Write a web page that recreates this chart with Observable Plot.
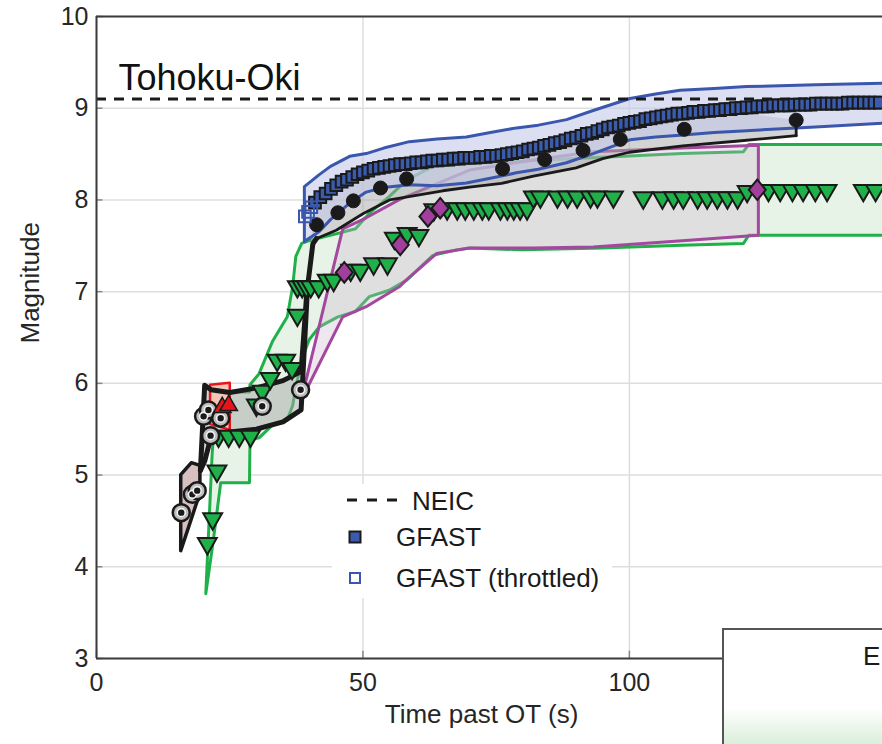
<!DOCTYPE html>
<html><head><meta charset="utf-8">
<script src="https://cdn.jsdelivr.net/npm/d3@7"></script>
<script src="https://cdn.jsdelivr.net/npm/@observablehq/plot@0.6"></script>
<style>
body{margin:0;background:#fff;font-family:"Liberation Sans",Arial,sans-serif;}
#wrap{position:relative;width:882px;height:744px;overflow:hidden;}
#wrap svg{display:block;}
.leg{position:absolute;left:332px;top:484px;width:280px;height:114px;background:#fff;}
.lt{position:absolute;font-size:26px;color:#1a1a1a;line-height:26px;white-space:nowrap;}
.box2{position:absolute;left:722px;top:628px;width:220px;height:160px;border:2px solid #555;
 background:linear-gradient(to bottom,#fff 0px,#fff 78px,#dcefdc 112px);}
</style></head><body><div id="wrap"></div>
<script>
// ---- data ----
const xTicks = [0, 50, 100];
const yTicks = [3, 4, 5, 6, 7, 8, 9, 10];
const neicM = 9.1;
const titleText = "Tohoku-Oki";

const gfastT = [41,42,43,44,45,46,47,48,49,50,51,52,53,54,55,56,57,58,59,60,61,62,63,64,65,66,67,68,69,70,
 71,72,73,74,75,76,77,78,79,80,81,82,83,84,85,86,87,88,89,90,91,92,93,94,95,96,97,98,99,100,
 101,102,103,104,105,106,107,108,109,110,111,112,113,114,115,116,117,118,119,120,121,122,123,124,125,
 126,127,128,129,130,131,132,133,134,135,136,137,138,139,140,141,142,143,144,145,146,147];
const gfastM = [7.97,8.03,8.07,8.12,8.16,8.20,8.22,8.25,8.28,8.30,8.32,8.34,8.35,8.36,8.37,8.38,8.39,8.39,8.40,8.41,
 8.41,8.42,8.43,8.43,8.44,8.44,8.45,8.45,8.46,8.46,8.46,8.47,8.47,8.48,8.48,8.49,8.50,8.51,8.52,8.53,
 8.55,8.56,8.57,8.59,8.60,8.62,8.63,8.65,8.67,8.68,8.70,8.72,8.73,8.75,8.77,8.79,8.80,8.81,8.83,8.84,
 8.85,8.86,8.88,8.89,8.90,8.91,8.92,8.93,8.94,8.94,8.95,8.96,8.96,8.97,8.97,8.98,8.98,8.99,8.99,9.00,
 9.00,9.01,9.01,9.02,9.02,9.02,9.03,9.03,9.03,9.03,9.04,9.04,9.04,9.04,9.05,9.05,9.05,9.05,9.05,9.05,
 9.06,9.06,9.06,9.06,9.06,9.06,9.06];
const throttT = [39.1, 39.7, 40.3];
const throttM = [7.82, 7.87, 7.92];

const gfastBandT  = [39.1,41.9,44.0,47.6,50.7,54.0,58.8,64.0,69.5,74.0,78.9,83.0,88.3,93.3,100.2,105.0,109.6,116.0,122.1,135.0,150.0];
const gfastBandLo = [7.54,7.65,7.78,7.96,8.08,8.13,8.16,8.15,8.18,8.23,8.29,8.33,8.40,8.50,8.65,8.68,8.70,8.73,8.75,8.79,8.84];
const gfastBandHi = [8.14,8.27,8.36,8.47,8.50,8.56,8.63,8.66,8.68,8.73,8.78,8.81,8.87,8.97,9.10,9.15,9.19,9.21,9.23,9.25,9.27];

const dotT = [41.3, 45.3, 48.2, 53.3, 58.2, 76.2, 84.1, 91.3, 98.3, 110.3, 131.3];
const dotM = [7.73, 7.86, 7.99, 8.13, 8.23, 8.34, 8.44, 8.54, 8.66, 8.77, 8.87];

const grayT  = [19.5,20.3,21.5,25.0,30.0,35.0,38.4,39.6,40.6,41.3,45.0,50.0,55.0,60.0,65.0,70.0,76.0,82.0,90.0,95.0,100.0,110.0,120.0,131.3];
const grayLo = [5.05,5.15,5.42,5.47,5.50,5.58,5.71,7.05,7.52,7.58,7.67,7.85,8.00,8.05,8.10,8.14,8.18,8.26,8.35,8.45,8.52,8.59,8.64,8.70];
const grayHi = [5.05,5.98,5.93,5.90,5.95,6.03,6.13,7.10,7.72,7.88,8.10,8.25,8.33,8.36,8.38,8.40,8.43,8.50,8.62,8.70,8.78,8.88,8.95,8.87];

const brownT  = [15.9, 17.9, 19.5];
const brownLo = [4.17, 4.52, 4.80];
const brownHi = [5.00, 5.13, 5.10];
const circT = [15.9, 18.0, 18.9, 20.1, 21.0, 23.3, 21.4, 31.1, 38.3];
const circM = [4.59, 4.79, 4.83, 5.64, 5.71, 5.62, 5.43, 5.75, 5.93];

const redT  = [21.4, 25.1];
const redLo = [5.55, 5.49];
const redHi = [5.98, 6.00];
const redTriT = [23.6, 24.8];
const redTriM = [5.76, 5.78];

const greenT  = [20.6,21.8,22.5,23.4,28.8,28.9,30.6,33.1,35.9,36.9,37.5,38.6,40.0,41.9,45.4,48.7,51.3,55.0,58.3,63.2,67.6,70.1,80.0,95.0,110.0,121.5,122.5,150.0];
const greenLo = [3.70,4.19,4.50,4.91,4.91,5.38,5.40,5.54,5.60,5.75,5.95,6.25,6.47,6.61,6.72,6.78,6.94,7.01,7.12,7.39,7.45,7.47,7.45,7.47,7.50,7.52,7.61,7.61];
const greenHi = [3.70,5.23,5.78,5.90,5.90,5.98,6.10,6.45,6.72,7.05,7.38,7.52,7.55,7.58,7.63,7.68,7.85,8.03,8.21,8.36,8.38,8.39,8.42,8.46,8.50,8.52,8.60,8.60];
const triT = [20.8,21.8,22.6,22.9,24.8,26.8,28.9,30.0,31.1,32.6,33.9,35.5,36.7,37.7,37.7,38.6,39.4,40.2,41.7,
 43.3,44.5,47.7,49.5,52.0,54.6,55.9,58.3,60.5,63.3,65.8,67.7,69.2,70.8,72.4,73.6,75.8,77.1,78.3,79.5,80.8,
 82.0,83.3,86.5,88.4,90.2,92.7,94.0,97.0,102.6,106.2,108.3,110.1,112.8,114.6,116.5,118.4,120.3,122.1,
 126.1,128.3,130.6,132.6,134.9,137.1,143.9,146.2];
const triM = [4.23,4.50,5.02,5.40,5.40,5.40,5.40,5.74,5.89,6.03,6.23,6.23,6.14,6.72,7.03,7.03,7.03,7.03,7.03,
 7.10,7.10,7.21,7.21,7.28,7.28,7.56,7.61,7.59,7.87,7.88,7.88,7.88,7.88,7.88,7.88,7.88,7.88,7.88,7.88,7.88,
 8.01,8.01,8.01,8.01,8.01,8.01,8.01,8.01,8.00,8.00,8.00,8.00,8.00,8.00,8.00,8.00,8.00,8.07,
 8.08,8.08,8.08,8.08,8.08,8.08,8.08,8.08];

const magT  = [38.5,46.3,50.7,57.0,58.2,63.9,70.1,82.0,93.3,110.0,124.3];
const magLo = [5.81,6.72,6.83,7.05,7.12,7.41,7.47,7.47,7.48,7.55,7.61];
const magHi = [5.81,7.68,7.80,8.00,8.03,8.17,8.32,8.43,8.52,8.56,8.59];
const diaT = [46.5, 57.0, 62.2, 64.5, 124.0];
const diaM = [7.21, 7.51, 7.82, 7.91, 8.11];

// ---- helpers ----
const band = (T, L, H) => T.map((t, i) => ({t, lo: L[i], hi: H[i]}));
const pts = (T, M) => T.map((t, i) => ({t, m: M[i]}));
const downTri = {draw(ctx, size) {
  const y = Math.sqrt(size / (3 * Math.sqrt(3)));
  ctx.moveTo(0, 1.6 * y); ctx.lineTo(Math.sqrt(3) * y, -1.4 * y); ctx.lineTo(-Math.sqrt(3) * y, -1.4 * y); ctx.closePath();
}};
const upTri = {draw(ctx, size) {
  const y = Math.sqrt(size / (3 * Math.sqrt(3)));
  ctx.moveTo(0, -1.6 * y); ctx.lineTo(Math.sqrt(3) * y, 1.4 * y); ctx.lineTo(-Math.sqrt(3) * y, 1.4 * y); ctx.closePath();
}};
const diamond = {draw(ctx, size) {
  const w = Math.sqrt(size) * 0.6, h = Math.sqrt(size) * 0.72;
  ctx.moveTo(0, -h); ctx.lineTo(w, 0); ctx.lineTo(0, h); ctx.lineTo(-w, 0); ctx.closePath();
}};

const grayRows = band(grayT, grayLo, grayHi);
const lastGray = grayRows[grayRows.length - 1];
const K = "#1a1a1a";

const chart = Plot.plot({
  width: 882, height: 744,
  marginLeft: 96, marginRight: 0, marginTop: 16, marginBottom: 86,
  x: {domain: [0, 147.5]},
  y: {domain: [3, 10]},
  style: {fontFamily: '"Liberation Sans", Arial, sans-serif', color: "#262626", background: "#fff", overflow: "visible"},
  marks: [
    Plot.gridY(yTicks, {stroke: "#dedede", strokeOpacity: 1, strokeWidth: 1.5}),
    Plot.gridX(xTicks, {stroke: "#dedede", strokeOpacity: 1, strokeWidth: 1.5}),
    Plot.ruleY(yTicks, {x1: 0, x2: 1.2, stroke: "#888", strokeWidth: 1.5}),
    Plot.ruleX(xTicks, {y1: 3, y2: 3.08, stroke: "#888", strokeWidth: 1.5}),
    // bands
    Plot.areaY(band(greenT, greenLo, greenHi), {x: "t", y1: "lo", y2: "hi", fill: "#e6f3e6", stroke: "#1fb04a", strokeWidth: 3, clip: true}),
    Plot.areaY(band(magT, magLo, magHi), {x: "t", y1: "lo", y2: "hi", fill: "#cdb4cd", fillOpacity: 0.32, stroke: "#a2489e", strokeWidth: 3, clip: true}),
    Plot.areaY(grayRows, {x: "t", y1: "lo", y2: "hi", fill: "#a8a8a8", fillOpacity: 0.5, clip: true}),
    Plot.areaY(band(brownT, brownLo, brownHi), {x: "t", y1: "lo", y2: "hi", fill: "#d8c0c0", stroke: K, strokeWidth: 3.5, clip: true}),
    Plot.areaY(band(redT, redLo, redHi), {x: "t", y1: "lo", y2: "hi", fill: "#f5c6b6", stroke: "#e8141c", strokeWidth: 2.5, clip: true}),
    Plot.areaY(band(gfastBandT, gfastBandLo, gfastBandHi), {x: "t", y1: "lo", y2: "hi", fill: "#c3c9e8", fillOpacity: 0.6, stroke: "#3a57ad", strokeWidth: 3, clip: true}),
    // outline of the gray band
    Plot.line(grayRows.filter(d => d.t <= 41.3), {x: "t", y: "lo", stroke: K, strokeWidth: 5, clip: true}),
    Plot.line(grayRows.filter(d => d.t <= 39.6), {x: "t", y: "hi", stroke: K, strokeWidth: 5, clip: true}),
    Plot.line(grayRows.filter(d => d.t >= 41.3), {x: "t", y: "lo", stroke: K, strokeWidth: 2.8, clip: true}),
    Plot.line([{t: lastGray.t, m: lastGray.lo}, {t: dotT[dotT.length - 1], m: dotM[dotM.length - 1]}], {x: "t", y: "m", stroke: K, strokeWidth: 2.8}),
    // NEIC
    Plot.ruleY([neicM], {stroke: K, strokeWidth: 3, strokeDasharray: "10,8"}),
    // markers
    Plot.dot(pts(triT, triM), {x: "t", y: "m", symbol: downTri, r: 7, fill: "#1fb04a", stroke: K, strokeWidth: 2, clip: true}),
    Plot.dot(pts(diaT, diaM), {x: "t", y: "m", symbol: diamond, r: 8, fill: "#a23f9d", stroke: K, strokeWidth: 2, clip: true}),
    Plot.dot(pts(circT, circM), {x: "t", y: "m", r: 8.5, fill: "#bdbdbd", stroke: K, strokeWidth: 2.5}),
    Plot.dot(pts(circT, circM), {x: "t", y: "m", r: 4, fill: K, stroke: "#f2f2f2", strokeWidth: 1.6}),
    Plot.dot(pts(redTriT, redTriM), {x: "t", y: "m", symbol: upTri, r: 6.5, fill: "#e8141c", stroke: K, strokeWidth: 1.5}),
    Plot.dot(pts(dotT, dotM), {x: "t", y: "m", r: 7, fill: K, stroke: K, strokeWidth: 1}),
    Plot.dot(pts(gfastT, gfastM), {x: "t", y: "m", symbol: "square", r: 6.6, fill: "#3b5bac", stroke: K, strokeWidth: 2, clip: true}),
    Plot.dot(pts(throttT, throttM), {x: "t", y: "m", symbol: "square", r: 6.6, fill: "none", stroke: "#3a57ad", strokeWidth: 2}),
    // frame
    Plot.ruleX([0], {stroke: "#3c3c3c", strokeWidth: 2}),
    Plot.ruleY([3], {stroke: "#3c3c3c", strokeWidth: 2}),
    Plot.ruleY([10], {stroke: "#3c3c3c", strokeWidth: 2}),
    // axes & text
    Plot.axisY(yTicks, {tickSize: 0, tickPadding: 8, fontSize: 25, label: null, fill: "#262626", tickFormat: "d"}),
    Plot.axisX(xTicks, {tickSize: 0, tickPadding: 15, fontSize: 25, label: null, fill: "#262626", tickFormat: "d"}),
    Plot.text([titleText], {frameAnchor: "top-left", dx: 22, dy: 48, fontSize: 36, textAnchor: "start", fill: "#111"}),
    Plot.text(["Magnitude"], {frameAnchor: "left", rotate: -90, dx: -66, dy: 6, fontSize: 26, fill: "#262626"}),
    Plot.text(["Time past OT (s)"], {frameAnchor: "bottom", dx: -8, dy: 64, fontSize: 26, fill: "#262626"})
  ]
});
const wrap = document.getElementById("wrap");
wrap.appendChild(chart);

// legend
const leg = document.createElement("div");
leg.className = "leg";
leg.innerHTML = `
 <svg width="80" height="114" style="position:absolute;left:0;top:0">
  <line x1="15" x2="68" y1="16" y2="16" stroke="#1a1a1a" stroke-width="3" stroke-dasharray="10,10"/>
  <rect x="17.5" y="47.5" width="11" height="11" fill="#3b5bac" stroke="#1a1a1a" stroke-width="2"/>
  <rect x="18" y="89" width="10" height="10" fill="#fff" stroke="#3a57ad" stroke-width="2"/>
 </svg>
 <div class="lt" style="left:80px;top:4px">NEIC</div>
 <div class="lt" style="left:64px;top:40px">GFAST</div>
 <div class="lt" style="left:64px;top:81px">GFAST (throttled)</div>`;
wrap.appendChild(leg);

const box2 = document.createElement("div");
box2.className = "box2";
box2.innerHTML = `<div class="lt" style="left:139px;top:13px">E</div>`;
wrap.appendChild(box2);
</script></body></html>
